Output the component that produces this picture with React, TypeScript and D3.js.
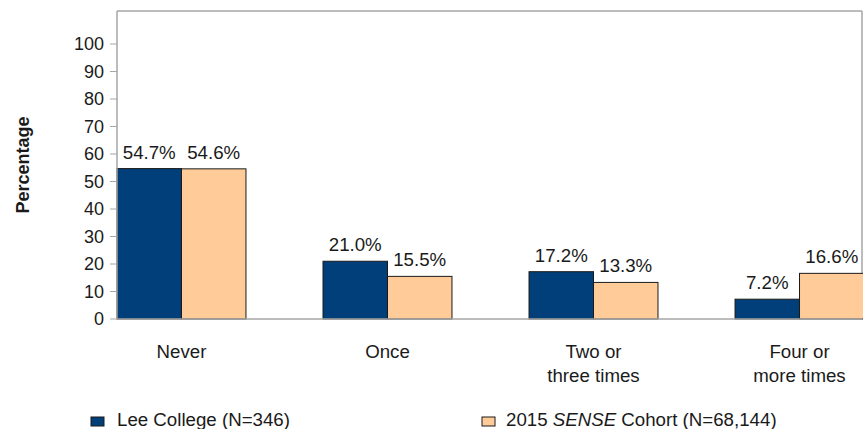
import React from "react";
import * as d3 from "d3";

// chart data
const categories = ["Never", "Once", "Two or\nthree times", "Four or\nmore times"];
const leeCollege = [54.7, 21.0, 17.2, 7.2];
const senseCohort = [54.6, 15.5, 13.3, 16.6];
const yTicks = [0, 10, 20, 30, 40, 50, 60, 70, 80, 90, 100];
const seriesNames = ["Lee College (N=346)", "2015 SENSE Cohort (N=68,144)"];
const seriesColors = ["#003F7A", "#FFCC99"];

const W = 863;
const H = 429;
const margin = { top: 11, right: -1, bottom: 110, left: 117 };
const FONT = "Arial, 'Liberation Sans', Helvetica, sans-serif";
const TEXT = "#1a1a1a";
const FS = 18.7;

export default function App() {
  const x = d3
    .scaleBand<string>()
    .domain(categories)
    .range([margin.left, W - margin.right])
    .paddingInner(0.374)
    .paddingOuter(0)
    .align(0);

  const x1 = d3
    .scaleBand<number>()
    .domain([0, 1])
    .range([0, x.bandwidth()]);

  const y = d3
    .scaleLinear()
    .domain([0, 112])
    .range([H - margin.bottom, margin.top]);

  const series = [leeCollege, senseCohort];
  const plotRight = 862;

  return (
    <svg
      width={W}
      height={H}
      style={{ position: "absolute", left: 0, top: 0, background: "#fff" }}
      fontFamily={FONT}
    >
      {/* frame */}
      <line x1={margin.left} x2={plotRight} y1={margin.top} y2={margin.top} stroke="#a6a6a6" strokeWidth={1.5} />
      <line x1={plotRight} x2={plotRight} y1={margin.top} y2={y(0)} stroke="#a6a6a6" strokeWidth={1.5} />

      {/* bars */}
      {categories.map((c, i) => (
        <g key={c} transform={`translate(${x(c)},0)`}>
          {series.map((s, j) => {
            const bx = x1(j)!;
            const bw = x1.bandwidth();
            const cx = bx + bw / 2;
            return (
              <g key={j}>
                <rect
                  x={bx}
                  y={y(s[i])}
                  width={bw}
                  height={y(0) - y(s[i])}
                  fill={seriesColors[j]}
                  stroke="#1a1a1a"
                  strokeWidth={1}
                />
                <text
                  x={cx}
                  y={y(s[i]) - 10}
                  textAnchor="middle"
                  fontSize={FS}
                  fill={TEXT}
                >
                  {s[i].toFixed(1) + "%"}
                </text>
              </g>
            );
          })}
          {c.split("\n").map((line, k) => (
            <text
              key={k}
              x={x.bandwidth() / 2}
              y={358 + k * 24}
              textAnchor="middle"
              fontSize={FS}
              fill={TEXT}
            >
              {line}
            </text>
          ))}
        </g>
      ))}

      {/* axes */}
      <line x1={margin.left} x2={margin.left} y1={margin.top} y2={y(0)} stroke="#a6a6a6" strokeWidth={1.5} />
      <line x1={margin.left} x2={plotRight} y1={y(0)} y2={y(0)} stroke="#a6a6a6" strokeWidth={1.5} />
      {yTicks.map((t) => (
        <g key={t} transform={`translate(0,${y(t)})`}>
          <line x1={110} x2={margin.left} stroke="#a6a6a6" strokeWidth={1} />
          <text x={104} dy="0.35em" textAnchor="end" fontSize={18} fill={TEXT}>
            {t}
          </text>
        </g>
      ))}
      <text
        transform={`translate(29,${(y(0) + margin.top) / 2}) rotate(-90)`}
        textAnchor="middle"
        fontSize={18}
        fontWeight="bold"
        fill={TEXT}
      >
        Percentage
      </text>

      {/* legend */}
      <g transform="translate(91,417)">
        <rect width={13} height={9} fill={seriesColors[0]} stroke="#1a1a1a" strokeWidth={1} />
        <text x={26} y={8.5} fontSize={FS} fill={TEXT}>
          {seriesNames[0]}
        </text>
      </g>
      <g transform="translate(482,417)">
        <rect width={13} height={9} fill={seriesColors[1]} stroke="#1a1a1a" strokeWidth={1} />
        <text x={24} y={8.5} fontSize={FS} fill={TEXT}>
          2015 <tspan fontStyle="italic">SENSE</tspan> Cohort (N=68,144)
        </text>
      </g>
    </svg>
  );
}
